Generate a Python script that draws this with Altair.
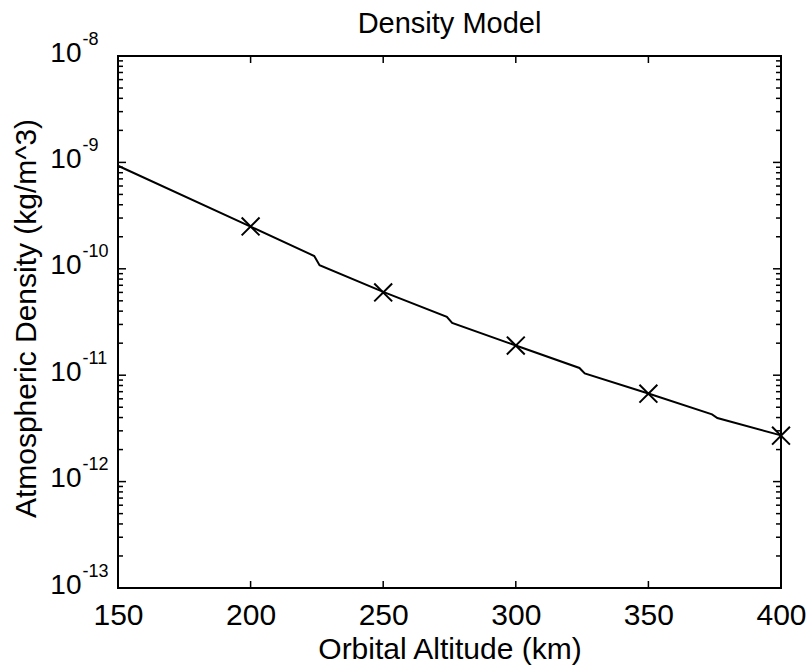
import altair as alt
import pandas as pd

# ---- data ----
line_alt = [150, 200, 224, 226, 250, 274, 276, 300, 324, 326, 350, 374, 376, 400]
line_rho = [9.3e-10, 2.49e-10, 1.32e-10, 1.08e-10, 6.07e-11, 3.54e-11, 3.10e-11,
            1.90e-11, 1.17e-11, 1.04e-11, 6.74e-12, 4.28e-12, 3.96e-12, 2.72e-12]

mark_alt = [200, 250, 300, 350, 400]
mark_rho = [2.5e-10, 6.0e-11, 1.9e-11, 6.7e-12, 2.7e-12]

x_ticks = [150, 200, 250, 300, 350, 400]
y_major = [1e-13, 1e-12, 1e-11, 1e-10, 1e-9, 1e-8]
y_minor = [k * 10.0 ** e for e in range(-13, -8) for k in range(2, 10)]

W, H = 663, 532
FONT = "Liberation Sans"

line_df = pd.DataFrame({"alt": line_alt, "rho": line_rho})
mark_df = pd.DataFrame({"alt": mark_alt, "rho": mark_rho})
xt_df = pd.DataFrame({"alt": x_ticks[1:-1]})
ymaj_df = pd.DataFrame({"rho": y_major[1:-1]})
ymin_df = pd.DataFrame({"rho": y_minor})

xscale = alt.Scale(domain=[150, 400], zero=False, nice=False)
yscale = alt.Scale(type="log", domain=[1e-13, 1e-8], nice=False)

line = alt.Chart(line_df).mark_line(color="black", strokeWidth=2).encode(
    x=alt.X("alt:Q", scale=xscale, axis=alt.Axis(
        values=x_ticks, title="Orbital Altitude (km)", ticks=False, tickSize=0,
        domain=False, grid=False, labelFontSize=30, labelFont=FONT, labelColor="black",
        labelPadding=12, labelFlush=False, labelOverlap=False,
        titleFontSize=30, titleFont=FONT, titleFontWeight="normal", titleColor="black",
        titleX=W / 2, titleY=70, titleBaseline="alphabetic", titleAlign="center")),
    y=alt.Y("rho:Q", scale=yscale, axis=alt.Axis(
        values=y_major, labelExpr="'10'", ticks=False, tickSize=0, domain=False,
        grid=False, labelFontSize=28, labelFont=FONT, labelColor="black",
        labelPadding=37, labelAlign="right", labelBaseline="middle", labelOffset=-3,
        labelFlush=False, labelOverlap=False,
        title="Atmospheric Density (kg/m^3)", titleFontSize=30, titleFont=FONT,
        titleFontWeight="normal", titleColor="black", titleX=-83, titleY=262,
        titleAngle=-90, titleAlign="center", titleBaseline="alphabetic")),
)

marks = alt.Chart(mark_df).mark_point(
    shape="M-1,-1L1,1M1,-1L-1,1", filled=False, color="black", strokeWidth=2,
    size=320, opacity=1).encode(
    x=alt.X("alt:Q", scale=xscale, axis=None),
    y=alt.Y("rho:Q", scale=yscale, axis=alt.Axis(
        orient="left", values=y_major,
        labelExpr="'' + round(log(datum.value) / LN10)", ticks=False, tickSize=0,
        domain=False, grid=False, labelFontSize=18, labelFont=FONT, labelColor="black",
        labelPadding=36, labelAlign="left", labelBaseline="middle", labelOffset=-17,
        labelFlush=False, labelOverlap=False, title=None)),
)

def yticks(df, length):
    left = alt.Chart(df).mark_rule(color="black", strokeWidth=1.5).encode(
        y=alt.Y("rho:Q", scale=yscale, axis=None),
        x=alt.value(0), x2=alt.value(length))
    right = alt.Chart(df).mark_rule(color="black", strokeWidth=1.5).encode(
        y=alt.Y("rho:Q", scale=yscale, axis=None),
        x=alt.value(W), x2=alt.value(W - length))
    return [left, right]

xt_bottom = alt.Chart(xt_df).mark_rule(color="black", strokeWidth=1.5).encode(
    x=alt.X("alt:Q", scale=xscale, axis=None), y=alt.value(H), y2=alt.value(H - 7))
xt_top = alt.Chart(xt_df).mark_rule(color="black", strokeWidth=1.5).encode(
    x=alt.X("alt:Q", scale=xscale, axis=None), y=alt.value(0), y2=alt.value(7))

chart = alt.layer(
    line, marks, *yticks(ymin_df, 5), *yticks(ymaj_df, 8), xt_bottom, xt_top
).resolve_axis(x="independent", y="independent").resolve_scale(
    x="shared", y="shared").properties(
    width=W, height=H,
    title=alt.TitleParams("Density Model", fontSize=29, font=FONT, fontWeight="normal",
                          color="black", anchor="middle", frame="group",
                          baseline="alphabetic", offset=0, dy=32),
    autosize=alt.AutoSizeParams(type="none"),
    padding={"left": 118, "top": 56, "right": 26, "bottom": 80},
    background="white",
).configure_view(stroke="black", strokeWidth=2)

chart.save("out.html", embed_options={"renderer": "svg", "actions": False})
